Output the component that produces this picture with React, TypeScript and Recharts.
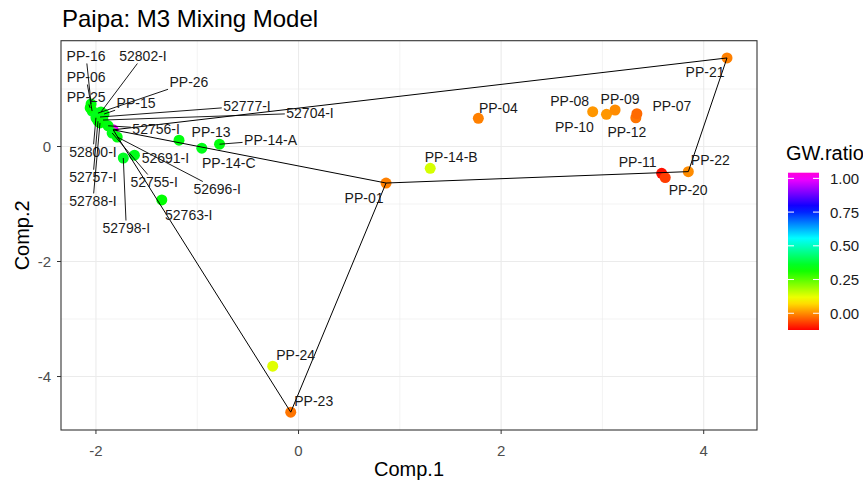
import React from "react";
import { ScatterChart, Scatter, XAxis, YAxis, CartesianGrid } from "recharts";

const FONT = "'Liberation Sans', Arial, sans-serif";

// sample names, PCA scores and GW ratio
const names = [
  "GW", "PP-16", "PP-06", "PP-25", "52802-I", "PP-26", "PP-15", "52777-I", "52704-I",
  "52800-I", "52757-I", "52788-I", "52756-I", "52755-I", "52696-I", "52798-I", "52691-I",
  "52763-I", "PP-13", "PP-14-C", "PP-14-A", "PP-14-B", "PP-04", "PP-08", "PP-10", "PP-09",
  "PP-12", "PP-07", "PP-11", "PP-20", "PP-22", "PP-21", "PP-01", "PP-24", "PP-23",
];
const comp1 = [
  -1.83, -2.048, -2.038, -2.057, -1.95, -1.98, -1.92, -1.96, -1.93,
  -2.0, -1.98, -1.96, -1.88, -1.84, -1.79, -1.73, -1.62,
  -1.35, -1.18, -0.955, -0.78, 1.3, 1.775, 2.904, 3.04, 3.125,
  3.33, 3.34, 3.585, 3.62, 3.848, 4.23, 0.864, -0.255, -0.077,
];
const comp2 = [
  0.29, 0.74, 0.617, 0.67, 0.6, 0.58, 0.565, 0.513, 0.46,
  0.5, 0.44, 0.41, 0.36, 0.235, 0.165, -0.2, -0.15,
  -0.93, 0.11, -0.03, 0.04, -0.38, 0.49, 0.605, 0.56, 0.635,
  0.5, 0.57, -0.466, -0.54, -0.437, 1.54, -0.635, -3.82, -4.62,
];
const gwRatio = [
  1.0, 0.34, 0.35, 0.33, 0.34, 0.35, 0.34, 0.33, 0.34,
  0.35, 0.34, 0.33, 0.34, 0.35, 0.34, 0.36, 0.35,
  0.33, 0.34, 0.35, 0.34, 0.14, -0.01, 0.01, 0.01, 0.0,
  -0.02, -0.03, -0.11, -0.07, 0.0, -0.01, -0.01, 0.13, -0.02,
];

// mixing model polygon, in drawing order
const hullPath = ["GW", "PP-21", "PP-22", "PP-01", "GW", "PP-23", "PP-01"];

const xTicks = [-2, 0, 2, 4];
const yTicks = [-4, -2, 0];
const legendBreaks = [0, 0.25, 0.5, 0.75, 1];

// repel-style label placement: [dx, dy, draw segment]
const labelNudge: Record<string, [number, number, boolean]> = {
  "PP-04": [20, -10, false],
  "PP-08": [-23, -11, false],
  "PP-10": [-32, 13, false],
  "PP-09": [5, -11, false],
  "PP-12": [-9, 14, false],
  "PP-07": [35, -8, false],
  "PP-14-B": [21, -11, false],
  "PP-11": [-24, -11, false],
  "PP-20": [23, 12, false],
  "PP-22": [22, -12, false],
  "PP-21": [-22, 14, false],
  "PP-01": [-22, 15, false],
  "PP-24": [23, -11, false],
  "PP-23": [23, -11, false],
  "PP-13": [32, -8, false],
  "PP-14-C": [27, 15, false],
  "PP-14-A": [51, -4, true],
  "52763-I": [27, 15, false],
  "52691-I": [31, 3, false],
  "52798-I": [3, 70, true],
  "52755-I": [42, 49, true],
  "52696-I": [100, 52, true],
  "52800-I": [-3, 34, true],
  "52757-I": [-5, 56, true],
  "52788-I": [-7, 78, true],
  "52756-I": [48, 3, true],
  "PP-15": [32, -11, true],
  "52777-I": [147, -11, true],
  "52704-I": [207, -7, true],
  "PP-26": [91, -31, true],
  "52802-I": [42, -56, true],
  "PP-16": [-5, -48, true],
  "PP-06": [-6, -34, true],
  "PP-25": [-4, -11, true],
};

const points = names.map((name, i) => ({ name, x: comp1[i], y: comp2[i], gw: gwRatio[i] }));
const hullData = hullPath.map((n) => points.find((p) => p.name === n)!);

const GW_MIN = -0.124;
const GW_MAX = 1.042;
const gwColor = (v: number) => {
  const t = Math.max(0, Math.min(1, (v - GW_MIN) / (GW_MAX - GW_MIN)));
  return `hsl(${(309 * t).toFixed(1)}, 100%, 50%)`;
};

const charW: Record<string, number> = { P: 0.667, "-": 0.333, I: 0.278, A: 0.667, B: 0.667, C: 0.722 };
const textWidth = (s: string, size = 14) =>
  s.split("").reduce((w, c) => w + (charW[c] ?? 0.556), 0) * size;

const Dot = (props: any) => (
  <circle cx={props.cx} cy={props.cy} r={5.5} fill={gwColor(props.payload.gw)} />
);

const Empty = () => <g />;

const RepelLabel = (props: any) => {
  const { cx, cy, payload } = props;
  const nudge = labelNudge[payload.name];
  if (!nudge) return <g />;
  const [dx, dy, seg] = nudge;
  const lx = cx + dx;
  const ly = cy + dy;
  let segment = null;
  if (seg) {
    const hw = textWidth(payload.name) / 2 + 1.5;
    const hh = 7.5;
    const vx = cx - lx;
    const vy = cy - ly;
    const s = Math.min(
      vx !== 0 ? hw / Math.abs(vx) : Infinity,
      vy !== 0 ? hh / Math.abs(vy) : Infinity
    );
    if (s < 1) {
      segment = (
        <line x1={cx} y1={cy} x2={lx + vx * s} y2={ly + vy * s} stroke="#000" strokeWidth={0.9} />
      );
    }
  }
  return (
    <g>
      {segment}
      <text x={lx} y={ly} textAnchor="middle" dominantBaseline="central" fontSize={14} fontFamily={FONT} fill="#1a1a1a">
        {payload.name}
      </text>
    </g>
  );
};

const PANEL = { left: 61, top: 40.7, right: 757, bottom: 430 };
const BAR = { x: 788, top: 172.7, bottom: 330, w: 31 };
const barY = (v: number) => BAR.top + ((GW_MAX - v) / (GW_MAX - GW_MIN)) * (BAR.bottom - BAR.top);

export default function App() {
  const stops = Array.from({ length: 25 }, (_, i) => i / 24);
  return (
    <div style={{ position: "absolute", left: 0, top: 0, width: 863, height: 486, background: "#fff", overflow: "hidden" }}>
      <ScatterChart
        width={863}
        height={486}
        margin={{ top: PANEL.top, right: 863 - PANEL.right, bottom: 486 - PANEL.bottom - 30, left: PANEL.left - 30 }}
      >
        <CartesianGrid stroke="#EBEBEB" strokeWidth={0.6} verticalValues={[-1, 1, 3]} horizontalValues={[-3, -1, 1]} />
        <CartesianGrid stroke="#EBEBEB" strokeWidth={1.1} verticalValues={xTicks} horizontalValues={yTicks} />
        <XAxis
          type="number"
          dataKey="x"
          domain={[-2.345, 4.526]}
          ticks={xTicks}
          allowDataOverflow
          height={30}
          axisLine={false}
          tickSize={4}
          tickMargin={11}
          tickLine={{ stroke: "#333" }}
          tick={{ fill: "#4D4D4D", fontSize: 15, fontFamily: FONT }}
        />
        <YAxis
          type="number"
          dataKey="y"
          domain={[-4.93, 1.84]}
          ticks={yTicks}
          allowDataOverflow
          width={30}
          axisLine={false}
          tickSize={4}
          tickMargin={6}
          tickLine={{ stroke: "#333" }}
          tick={{ fill: "#4D4D4D", fontSize: 15, fontFamily: FONT }}
        />
        <Scatter data={points} shape={Dot} isAnimationActive={false} />
        <Scatter
          data={hullData}
          shape={Empty}
          line={{ stroke: "#000", strokeWidth: 1 }}
          isAnimationActive={false}
        />
        <Scatter data={points} shape={RepelLabel} isAnimationActive={false} />
      </ScatterChart>
      <svg width={863} height={486} style={{ position: "absolute", left: 0, top: 0, pointerEvents: "none" }}>
        <defs>
          <linearGradient id="gwbar" x1="0" y1="0" x2="0" y2="1">
            {stops.map((t) => (
              <stop key={t} offset={t} stopColor={gwColor(GW_MAX - t * (GW_MAX - GW_MIN))} />
            ))}
          </linearGradient>
        </defs>
        <rect
          x={PANEL.left}
          y={PANEL.top}
          width={PANEL.right - PANEL.left}
          height={PANEL.bottom - PANEL.top}
          fill="none"
          stroke="#333"
          strokeWidth={1.1}
        />
        <text x={62} y={27} fontSize={24} fontFamily={FONT} fill="#000">
          Paipa: M3 Mixing Model
        </text>
        <text x={(PANEL.left + PANEL.right) / 2} y={476} textAnchor="middle" fontSize={20} fontFamily={FONT} fill="#000">
          Comp.1
        </text>
        <text
          x={0}
          y={0}
          transform={`translate(29, ${(PANEL.top + PANEL.bottom) / 2}) rotate(-90)`}
          textAnchor="middle"
          fontSize={20}
          fontFamily={FONT}
          fill="#000"
        >
          Comp.2
        </text>
        <text x={786} y={160} fontSize={20} fontFamily={FONT} fill="#000">
          GW.ratio
        </text>
        <rect x={BAR.x} y={BAR.top} width={BAR.w} height={BAR.bottom - BAR.top} fill="url(#gwbar)" />
        {legendBreaks.map((b) => (
          <g key={b}>
            <line x1={BAR.x} x2={BAR.x + 6} y1={barY(b)} y2={barY(b)} stroke="#fff" strokeWidth={1} />
            <line x1={BAR.x + BAR.w - 6} x2={BAR.x + BAR.w} y1={barY(b)} y2={barY(b)} stroke="#fff" strokeWidth={1} />
            <text x={830} y={barY(b)} dominantBaseline="central" fontSize={15} fontFamily={FONT} fill="#1a1a1a">
              {b.toFixed(2)}
            </text>
          </g>
        ))}
      </svg>
    </div>
  );
}
